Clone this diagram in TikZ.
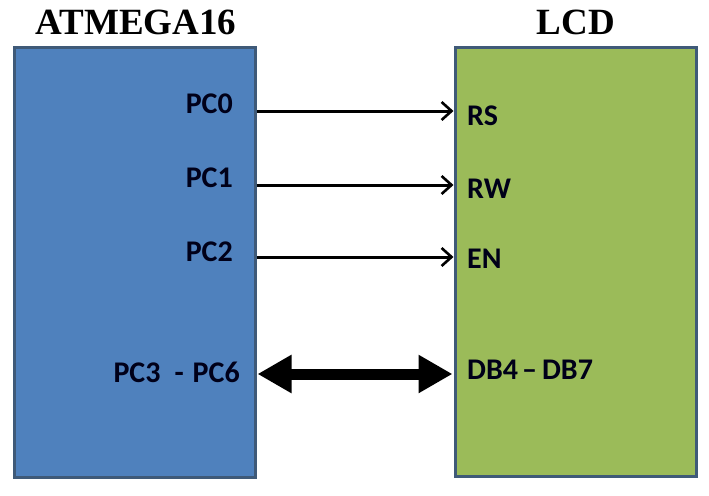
\documentclass[tikz,border=0pt]{standalone}
\usepackage{fontspec}
\setmainfont{Liberation Serif}
\newfontfamily\pinfont{Carlito}
\usetikzlibrary{arrows.meta,calc}
\definecolor{mcublue}{HTML}{4F81BD}
\definecolor{lcdgreen}{HTML}{9BBB59}
\definecolor{edgegray}{HTML}{3F5A78}
\tikzset{
  chip/.style={draw=edgegray, line width=3pt, minimum width=241pt, minimum height=429pt, inner sep=0pt},
  title/.style={font=\bfseries\fontsize{37}{40}\selectfont},
  pin/.style={font=\pinfont\bfseries\fontsize{30}{32}\selectfont, inner sep=0pt, text=black!90!blue},
  sig/.style={line width=3pt, -{Straight Barb[length=10pt,width=18pt,line width=2.6pt]}},
  bus/.style={line width=11pt, {Triangle[length=34pt,width=36pt]}-{Triangle[length=34pt,width=36pt]}, shorten <=1pt, shorten >=1pt}
}
\begin{document}
\begin{tikzpicture}[x=1pt,y=-1pt]
  \useasboundingbox (0,0) rectangle (709,495);
  \node[chip, fill=mcublue] (mcu) at (134.5,262.5) {};
  \node[chip, fill=lcdgreen] (lcd) at (575.5,262) {};
  \node[title] (tmcu) at (136,22) {ATMEGA16};
  \node[title] (tlcd) at (576,22) {LCD};
  % pins of the controller
  \node[pin, anchor=east] (pc0) at (233,104) {PC0};
  \node[pin, anchor=east] (pc1) at (233,178) {PC1};
  \node[pin, anchor=east] (pc2) at (233,252) {PC2};
  \node[pin, anchor=east] (pc36) at (240,372) {PC3\kern14pt-\kern9pt PC6};
  % pins of the display
  \node[pin, anchor=west] (rs) at (467,116) {RS};
  \node[pin, anchor=west] (rw) at (467,189) {RW};
  \node[pin, anchor=west] (en) at (467,259) {EN};
  \node[pin, anchor=west] (db) at (467,370) {DB4\kern4pt–\kern5pt DB7};
  % connections
  \coordinate (o0) at (mcu.east |- 0,111);
  \coordinate (o1) at (mcu.east |- 0,185);
  \coordinate (o2) at (mcu.east |- 0,257);
  \coordinate (o3) at (mcu.east |- 0,374);
  \draw[sig] (o0) -- (o0 -| lcd.west);
  \draw[sig] (o1) -- (o1 -| lcd.west);
  \draw[sig] (o2) -- (o2 -| lcd.west);
  \draw[bus] (o3) -- (o3 -| lcd.west);
\end{tikzpicture}
\end{document}
